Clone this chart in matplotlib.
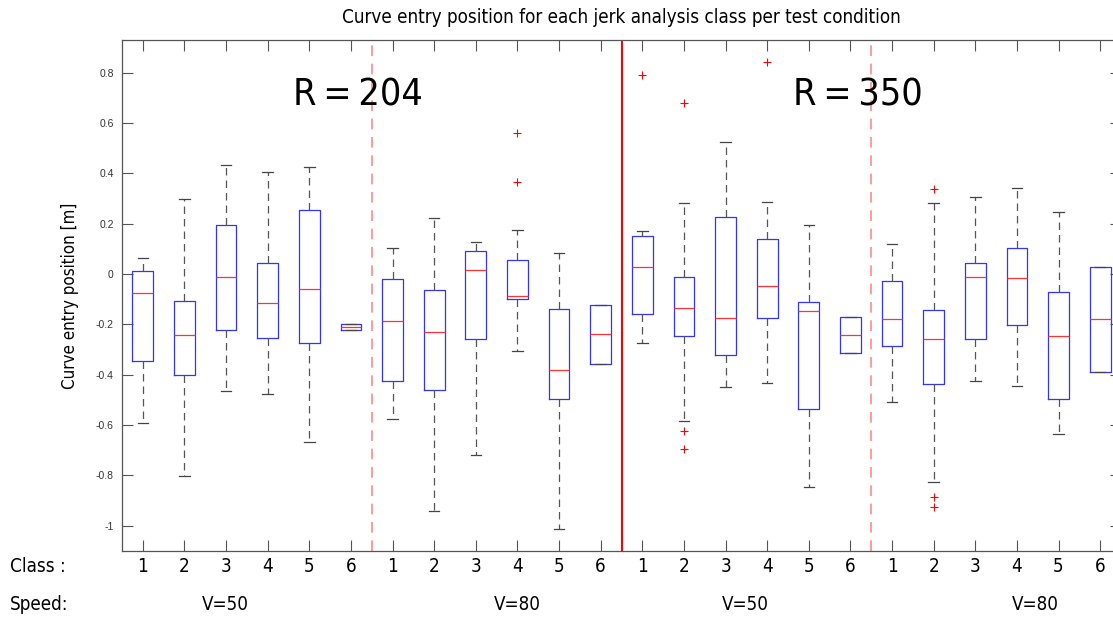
import numpy as np
import matplotlib
matplotlib.use('Agg')
import matplotlib.pyplot as plt
from matplotlib import font_manager

# box statistics, 24 boxes (R=204 V=50, V=80, R=350 V=50, V=80)
class_labels = ['1', '2', '3', '4', '5', '6'] * 4
speed_labels = ['V=50', 'V=80', 'V=50', 'V=80']
radius_labels = ['R\u2009=\u2009204', 'R\u2009=\u2009350']

whis_hi = [0.064, 0.299, 0.433, 0.404, 0.427, -0.199,
           0.102, 0.223, 0.126, 0.175, 0.082, -0.124,
           0.170, 0.283, 0.526, 0.287, 0.196, -0.171,
           0.120, 0.281, 0.307, 0.341, 0.248, 0.030]
q3 = [0.014, -0.105, 0.194, 0.045, 0.253, -0.199,
      -0.019, -0.065, 0.092, 0.056, -0.137, -0.124,
      0.150, -0.013, 0.227, 0.141, -0.112, -0.171,
      -0.029, -0.142, 0.044, 0.105, -0.072, 0.030]
med = [-0.077, -0.243, -0.011, -0.116, -0.059, -0.210,
       -0.185, -0.231, 0.016, -0.088, -0.380, -0.239,
       0.030, -0.133, -0.173, -0.049, -0.147, -0.242,
       -0.177, -0.257, -0.013, -0.017, -0.246, -0.179]
q1 = [-0.347, -0.402, -0.222, -0.255, -0.275, -0.222,
      -0.426, -0.461, -0.258, -0.100, -0.498, -0.356,
      -0.157, -0.246, -0.321, -0.173, -0.534, -0.312,
      -0.286, -0.437, -0.257, -0.203, -0.496, -0.388]
whis_lo = [-0.590, -0.802, -0.464, -0.476, -0.668, -0.222,
           -0.574, -0.942, -0.717, -0.307, -1.012, -0.356,
           -0.275, -0.582, -0.448, -0.434, -0.846, -0.312,
           -0.508, -0.826, -0.425, -0.444, -0.635, -0.388]
outliers = {9: [0.562, 0.367],
            12: [0.791],
            13: [0.678, -0.622, -0.695],
            15: [0.842],
            19: [0.337, -0.887, -0.926]}

# narrow font if there is one, the original uses a condensed DIN-like face
names = set(f.name for f in font_manager.fontManager.ttflist)
if 'Liberation Sans Narrow' in names:
    txt_font = dict(family='Liberation Sans Narrow')
    sc = 1.0
elif any(f.name == 'DejaVu Sans' and f.stretch == 'condensed' for f in font_manager.fontManager.ttflist):
    txt_font = dict(family='DejaVu Sans', stretch='condensed')
    sc = 0.9
else:
    txt_font = dict(family='Roboto')
    sc = 0.9

n_class = 6
stats = []
for i in range(len(med)):
    stats.append(dict(med=med[i], q1=q1[i], q3=q3[i],
                      whislo=whis_lo[i], whishi=whis_hi[i],
                      fliers=outliers.get(i, [])))
pos = np.arange(1, len(med) + 1)

fig = plt.figure(figsize=(11.13, 6.19), dpi=100)
ax = fig.add_axes([122 / 1113, 68 / 619, 999 / 1113, 511 / 619])

ax.bxp(stats, positions=pos, widths=0.5, capwidths=0.25,
       boxprops=dict(color='#3333ff', lw=0.9),
       medianprops=dict(color='#ff3333', lw=0.9),
       whiskerprops=dict(color='#555555', lw=0.9, linestyle=(0, (6, 4))),
       capprops=dict(color='#444444', lw=0.9),
       flierprops=dict(marker='+', markeredgecolor='red', markersize=6,
                       markeredgewidth=0.8, linestyle='none'))

# dividers between conditions
for k in range(1, 4):
    x = k * n_class + 0.5
    if k == 2:
        ax.axvline(x, color='red', lw=1.5)
    else:
        ax.axvline(x, color='#ff8080', lw=1.1, linestyle=(0, (7, 5)))

ax.set_xlim(0.5, 24.5)
ax.set_ylim(-1.1, 0.93)

ax.set_xticks(pos)
ax.set_xticklabels(class_labels, fontsize=15 * sc, **txt_font)
ax.set_yticks([-1, -0.8, -0.6, -0.4, -0.2, 0, 0.2, 0.4, 0.6, 0.8])
ax.set_yticklabels(['-1', '-0.8', '-0.6', '-0.4', '-0.2', '0', '0.2', '0.4', '0.6', '0.8'],
                   fontsize=7.5, color='#333333', family='Liberation Sans')
ax.tick_params(axis='both', direction='in', length=8, width=0.8, color='#555555',
               top=True, right=True)
ax.tick_params(axis='x', pad=4)
ax.tick_params(axis='y', pad=6)
for s in ax.spines.values():
    s.set_color('#555555')
    s.set_linewidth(0.9)

ax.set_title('Curve entry position for each jerk analysis class per test condition',
             fontsize=15 * sc, pad=12, **txt_font)
ax.set_ylabel('Curve entry position [m]', fontsize=13.5 * sc, labelpad=12, **txt_font)

for j, lab in enumerate(radius_labels):
    ax.text(j * 2 * n_class + 6.17, 0.71, lab, fontsize=30 * sc, weight='medium',
            ha='center', va='center', **txt_font)

fig.text(10 / 1113, 1 - 567 / 619, 'Class :', fontsize=15 * sc,
         ha='left', va='center', **txt_font)
fig.text(10 / 1113, 1 - 604 / 619, 'Speed:', fontsize=15 * sc,
         ha='left', va='center', **txt_font)
speed_x = [225, 517, 745, 1035]
for sx, lab in zip(speed_x, speed_labels):
    fig.text(sx / 1113, 1 - 604 / 619, lab, fontsize=15 * sc,
             ha='center', va='center', **txt_font)

fig.savefig('out.png', dpi=100)
